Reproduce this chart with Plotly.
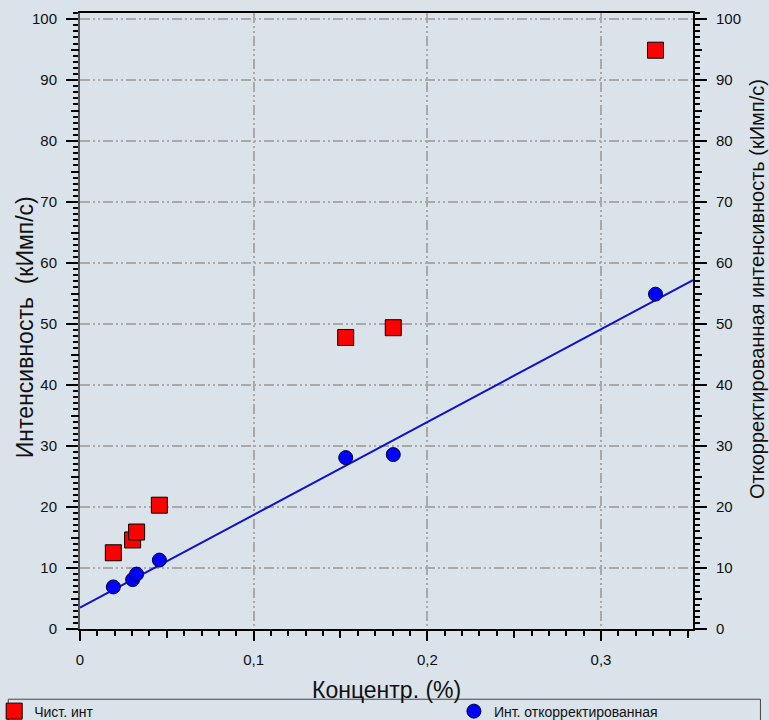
import plotly.graph_objects as go

# ---- data ----
conc = [0.0192, 0.0303, 0.0326, 0.0457, 0.153, 0.1804, 0.3314]
raw_int = [12.5, 14.6, 15.9, 20.3, 47.8, 49.4, 94.9]
corr_int = [6.9, 8.1, 9.0, 11.3, 28.1, 28.6, 54.9]
fit_x = [0.0, 0.353]
fit_y = [3.5, 57.2]

x_ticks = [0, 0.1, 0.2, 0.3]
x_ticktext = ["0", "0,1", "0,2", "0,3"]
x_mid = [0.05, 0.15, 0.25, 0.35]
y_mid = [5, 15, 25, 35, 45, 55, 65, 75, 85, 95]

x_title = "Концентр. (%)"
y_title = "Интенсивность  (кИмп/с)"
y2_title = "Откорректированная интенсивность (кИмп/с)"

BG = "#dae2ea"
GRID = "#a9a9a9"
FONT = "Liberation Sans"
XR = [0, 0.353]
YR = [0, 101]

fig = go.Figure()
fig.add_trace(go.Scatter(
    x=fit_x, y=fit_y, mode="lines", line=dict(color="#1010d0", width=2),
    showlegend=False, yaxis="y2", hoverinfo="skip"))
fig.add_trace(go.Scatter(
    x=conc, y=raw_int, mode="markers", name="Чист. инт",
    marker=dict(symbol="square", size=16, color="#ff0000",
                line=dict(color="#000000", width=1)),
    legend="legend"))
fig.add_trace(go.Scatter(
    x=conc, y=corr_int, mode="markers", name="Инт. откорректированная",
    marker=dict(symbol="circle", size=14, color="#0000ff",
                line=dict(color="#000033", width=1)),
    yaxis="y2", legend="legend2"))

tickfont = dict(family=FONT, size=15, color="#111111")
common_grid = dict(showgrid=True, gridcolor=GRID, gridwidth=1.5,
                   griddash="10px,3px,2px,3px,2px,3px")
title_font = dict(family=FONT, size=23, color="#111111")
title_font2 = dict(family=FONT, size=20, color="#111111")

fig.update_layout(
    width=769, height=720,
    margin=dict(l=80, r=76, t=13, b=91, autoexpand=False),
    paper_bgcolor=BG, plot_bgcolor=BG,
    font=dict(family=FONT, size=15, color="#111111"),
    xaxis=dict(
        range=XR, tickmode="array", tickvals=x_ticks, ticktext=x_ticktext,
        ticks="outside", ticklen=10, tickwidth=1.5, tickcolor="#000",
        tickfont=tickfont, ticklabelstandoff=6, automargin=False,
        showline=True, linecolor="#000", linewidth=2, mirror=True,
        zeroline=False, **common_grid,
        minor=dict(dtick=0.01, ticks="outside", ticklen=5, tickwidth=1.5,
                   tickcolor="#000", showgrid=False),
    ),
    xaxis2=dict(
        overlaying="x", range=XR, tickmode="array", tickvals=x_mid,
        ticks="outside", ticklen=8, tickwidth=1.5, tickcolor="#000",
        showticklabels=False, showgrid=False, zeroline=False, showline=False,
        anchor="y", automargin=False,
    ),
    yaxis=dict(
        range=YR, dtick=10, tick0=0,
        ticks="outside", ticklen=12, tickwidth=1.5, tickcolor="#000",
        tickfont=tickfont, ticklabelstandoff=6, automargin=False,
        showline=True, linecolor="#555", linewidth=2, mirror=False,
        zeroline=False, **common_grid,
        minor=dict(dtick=1, ticks="outside", ticklen=5, tickwidth=1.5,
                   tickcolor="#000", showgrid=False),
    ),
    yaxis3=dict(
        overlaying="y", side="left", range=YR, tickmode="array", tickvals=y_mid,
        ticks="outside", ticklen=8, tickwidth=1.5, tickcolor="#000",
        showticklabels=False, showgrid=False, zeroline=False, showline=False,
        automargin=False,
    ),
    yaxis2=dict(
        overlaying="y", side="right", range=YR, dtick=10, tick0=0,
        ticks="outside", ticklen=12, tickwidth=1.5, tickcolor="#000",
        tickfont=tickfont, ticklabelstandoff=6, automargin=False,
        showline=True, linecolor="#000", linewidth=2,
        showgrid=False, zeroline=False,
        minor=dict(dtick=1, ticks="outside", ticklen=5, tickwidth=1.5,
                   tickcolor="#000", showgrid=False),
    ),
    yaxis4=dict(
        overlaying="y", side="right", range=YR, tickmode="array", tickvals=y_mid,
        ticks="outside", ticklen=8, tickwidth=1.5, tickcolor="#000",
        showticklabels=False, showgrid=False, zeroline=False, showline=False,
        automargin=False,
    ),
    legend=dict(x=-0.14, xanchor="left", y=-0.108, yanchor="top",
                bgcolor="rgba(0,0,0,0)", borderwidth=0,
                font=dict(family=FONT, size=14), itemwidth=30,
                tracegroupgap=0),
    legend2=dict(x=0.61, xanchor="left", y=-0.108, yanchor="top",
                 bgcolor="rgba(0,0,0,0)", borderwidth=0,
                 font=dict(family=FONT, size=14), itemwidth=30),
    shapes=[dict(type="rect", xref="paper", yref="paper",
                 x0=-0.117, x1=1.11, y0=-0.114, y1=-0.2,
                 line=dict(color="#444", width=1), fillcolor="rgba(0,0,0,0)",
                 layer="below")],
    annotations=[
        dict(text=x_title, xref="paper", yref="paper", x=0.5, y=-0.099,
             xanchor="center", yanchor="middle", showarrow=False,
             font=title_font),
        dict(text=y_title, xref="paper", yref="paper", x=-0.0897, y=0.49,
             xanchor="center", yanchor="middle", textangle=-90,
             showarrow=False, font=title_font),
        dict(text=y2_title, xref="paper", yref="paper", x=1.1044, y=0.552,
             xanchor="center", yanchor="middle", textangle=-90,
             showarrow=False, font=title_font2),
    ],
)

# dummy traces so overlay tick axes are rendered
fig.add_trace(go.Scatter(x=[None], y=[None], xaxis="x2", yaxis="y3",
                         showlegend=False, hoverinfo="skip"))
fig.add_trace(go.Scatter(x=[None], y=[None], xaxis="x2", yaxis="y4",
                         showlegend=False, hoverinfo="skip"))

fig.write_html("out.html")
